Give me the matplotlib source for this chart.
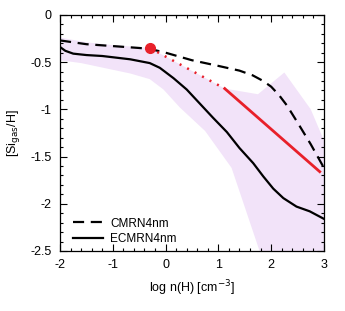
import numpy as np
import matplotlib
matplotlib.use("Agg")
import matplotlib.pyplot as plt
from matplotlib.ticker import MultipleLocator

plt.rcParams['font.family'] = ['Liberation Sans', 'DejaVu Sans']

# CMRN4nm (dashed)
cmrn_x = [-2.0, -1.5, -1.0, -0.5, -0.3, 0.0, 0.5, 1.0, 1.4, 1.65, 1.85, 2.0, 2.15, 2.3, 2.5, 2.75, 3.0]
cmrn_y = [-0.27, -0.31, -0.33, -0.35, -0.36, -0.40, -0.48, -0.54, -0.59, -0.64, -0.70, -0.76, -0.85, -0.96, -1.14, -1.37, -1.62]

# ECMRN4nm (solid)
ecmrn_x = [-2.0, -1.9, -1.75, -1.5, -1.2, -0.67, -0.3, -0.11, 0.15, 0.40, 0.65, 0.90, 1.16,
           1.40, 1.66, 1.85, 2.04, 2.23, 2.48, 2.73, 3.0]
ecmrn_y = [-0.34, -0.38, -0.41, -0.425, -0.435, -0.47, -0.51, -0.56, -0.67, -0.79, -0.94, -1.09, -1.24,
           -1.41, -1.57, -1.71, -1.84, -1.94, -2.03, -2.08, -2.16]

# observed point and trend (red)
obs_x, obs_y = -0.3, -0.35
trend_dot_x = [-0.3, 1.12]
trend_dot_y = [-0.35, -0.78]
trend_x = [1.12, 2.92]
trend_y = [-0.78, -1.66]

# shaded range
band_top_x = [-2.0, -1.5, -1.0, -0.3, 1.12, 1.75, 2.25, 2.75, 3.0]
band_top_y = [-0.24, -0.29, -0.32, -0.35, -0.78, -0.84, -0.61, -1.0, -1.33]
band_bot_x = [-2.0, -1.6, -0.67, -0.3, -0.04, 0.27, 0.75, 1.25, 1.78, 1.95, 3.0]
band_bot_y = [-0.48, -0.51, -0.62, -0.68, -0.79, -0.98, -1.23, -1.62, -2.50, -2.90, -2.90]

fig = plt.figure(figsize=(3.45, 3.11), dpi=100)
ax = fig.add_axes([0.174, 0.193, 0.765, 0.759])

poly_x = band_top_x + band_bot_x[::-1]
poly_y = band_top_y + band_bot_y[::-1]
ax.fill(poly_x, poly_y, color='#f2e3f9', lw=0, zorder=1)

ax.plot(cmrn_x, cmrn_y, color='black', lw=1.6, dashes=(5, 3), label='CMRN4nm', zorder=3)
ax.plot(ecmrn_x, ecmrn_y, color='black', lw=1.6, label='ECMRN4nm', zorder=3)
ax.plot(trend_dot_x, trend_dot_y, color='#e8202a', lw=1.8, dashes=(0.8, 2.6), zorder=4)
ax.plot(trend_x, trend_y, color='#e8202a', lw=2.0, zorder=4)
ax.plot([obs_x], [obs_y], marker='o', ms=7, color='#e8202a', zorder=5)

ax.set_xlim(-2, 3)
ax.set_ylim(-2.5, 0)
ax.xaxis.set_minor_locator(MultipleLocator(0.2))
ax.yaxis.set_minor_locator(MultipleLocator(0.1))
ax.set_yticks([-2.5, -2, -1.5, -1, -0.5, 0])
ax.set_yticklabels(['-2.5', '-2', '-1.5', '-1', '-0.5', '0'])
ax.set_xticks([-2, -1, 0, 1, 2, 3])
ax.set_xticklabels(['-2', '-1', '0', '1', '2', '3'])
ax.tick_params(which='both', direction='in', top=True, right=True, labelsize=9, width=0.8)
ax.tick_params(which='major', length=5, pad=6)
ax.tick_params(which='minor', length=2.5)
for s in ax.spines.values():
    s.set_linewidth(0.9)

ax.set_xlabel('log n(H) [cm$^{-3}$]', fontsize=9, labelpad=5)
ax.set_ylabel('[Si$_{\\rm gas}$/H]', fontsize=9, labelpad=6)

ax.legend(loc='lower left', frameon=False, fontsize=8.5, handlelength=2.6,
          handletextpad=0.6, labelspacing=0.3, borderaxespad=0.1,
          bbox_to_anchor=(0.025, 0.0))

fig.savefig('out.png', dpi=100)
